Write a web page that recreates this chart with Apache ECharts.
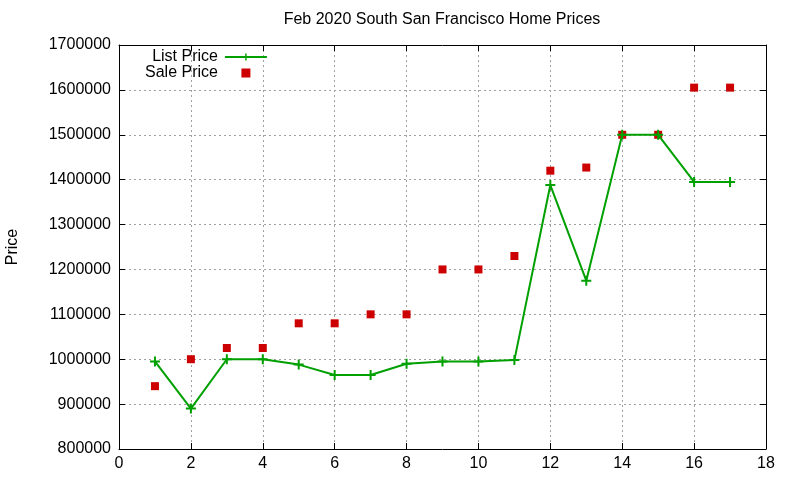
<!DOCTYPE html>
<html style="height: 100%">
<head>
<meta charset="utf-8">
<script src="https://cdn.jsdelivr.net/npm/echarts@6/dist/echarts.min.js"></script>
</head>
<body style="height: 100%; margin: 0; width: 100%; background: #fff;">
<div id="container" style="height: 480px; width: 800px;"></div>
<script type="text/javascript">
// house index on x, prices
var houses = [1, 2, 3, 4, 5, 6, 7, 8, 9, 10, 11, 12, 13, 14, 15, 16, 17];
var listPrice = [995000, 890000, 1000000, 1000000, 988000, 965000, 965000, 990000, 995000,
                 995000, 998000, 1388000, 1175000, 1500000, 1500000, 1395000, 1395000];
var salePrice = [940000, 1000000, 1025000, 1025000, 1080000, 1080000, 1100000, 1100000, 1200000,
                 1200000, 1230000, 1420000, 1427000, 1500000, 1500000, 1605000, 1605000];

var font = 'Liberation Sans, Arial, sans-serif';
var plus = 'path://M4,0H6V4H10V6H6V10H4V6H0V4H4Z';
var square = 'path://M0,0H10V10H0Z';

function pairs(ys) {
    return houses.map(function (x, i) { return [x, ys[i]]; });
}

var dom = document.getElementById('container');
var myChart = echarts.init(dom, null, {renderer: 'canvas'});

var gridLine = {show: true, lineStyle: {color: '#a0a0a0', type: [2, 3], width: 1}};
var frame = {show: true, onZero: false, lineStyle: {color: '#000', width: 1}};
var tick = {show: true, inside: true, length: 6, lineStyle: {color: '#000'}};
var plain = function (v) { return String(v); };

var option = {
    backgroundColor: '#fff',
    animation: false,
    textStyle: {fontFamily: font},
    graphic: [{
        type: 'text',
        x: 442, y: 20,
        style: {
            text: 'Feb 2020 South San Francisco Home Prices',
            fill: '#000', font: '16px ' + font,
            align: 'center', verticalAlign: 'middle'
        }
    }],
    legend: {
        orient: 'vertical',
        left: 140, top: 44,
        align: 'right',
        itemWidth: 42, itemHeight: 9,
        itemGap: 0,
        textStyle: {fontSize: 16, lineHeight: 16, color: '#000', fontFamily: font, padding: [0, 2, 0, 0]},
        data: [{name: 'List Price'}, {name: 'Sale Price', icon: square}]
    },
    grid: {left: 119, right: 34, top: 45, bottom: 31, containLabel: false, outerBoundsMode: 'none'},
    xAxis: [{
        type: 'value', min: 0, max: 18, interval: 2,
        axisLine: frame, axisTick: tick, splitLine: gridLine,
        axisLabel: {color: '#000', fontSize: 16, margin: 7, fontFamily: font, formatter: plain}
    }, {
        type: 'value', position: 'top', min: 0, max: 18, interval: 2,
        axisLine: frame, axisTick: tick, splitLine: {show: false},
        axisLabel: {show: false}
    }],
    yAxis: [{
        type: 'value', min: 800000, max: 1700000, interval: 100000,
        name: 'Price', nameLocation: 'middle', nameGap: 98,
        nameTextStyle: {color: '#000', fontSize: 16, fontFamily: font},
        axisLine: frame, axisTick: tick, splitLine: gridLine,
        axisLabel: {color: '#000', fontSize: 16, margin: 8, fontFamily: font, formatter: plain}
    }, {
        type: 'value', position: 'right', min: 800000, max: 1700000, interval: 100000,
        axisLine: frame, axisTick: tick, splitLine: {show: false},
        axisLabel: {show: false}
    }],
    series: [{
        name: 'List Price',
        type: 'line',
        data: pairs(listPrice),
        color: '#00a000',
        lineStyle: {width: 2, color: '#00a000'},
        symbol: plus, symbolSize: 10,
        itemStyle: {color: '#00a000'},
        z: 3
    }, {
        name: 'Sale Price',
        type: 'scatter',
        data: pairs(salePrice),
        symbol: 'rect', symbolSize: 8,
        itemStyle: {color: '#cc0000', opacity: 1},
        z: 2
    }]
};

myChart.setOption(option, true);
</script>
</body>
</html>
